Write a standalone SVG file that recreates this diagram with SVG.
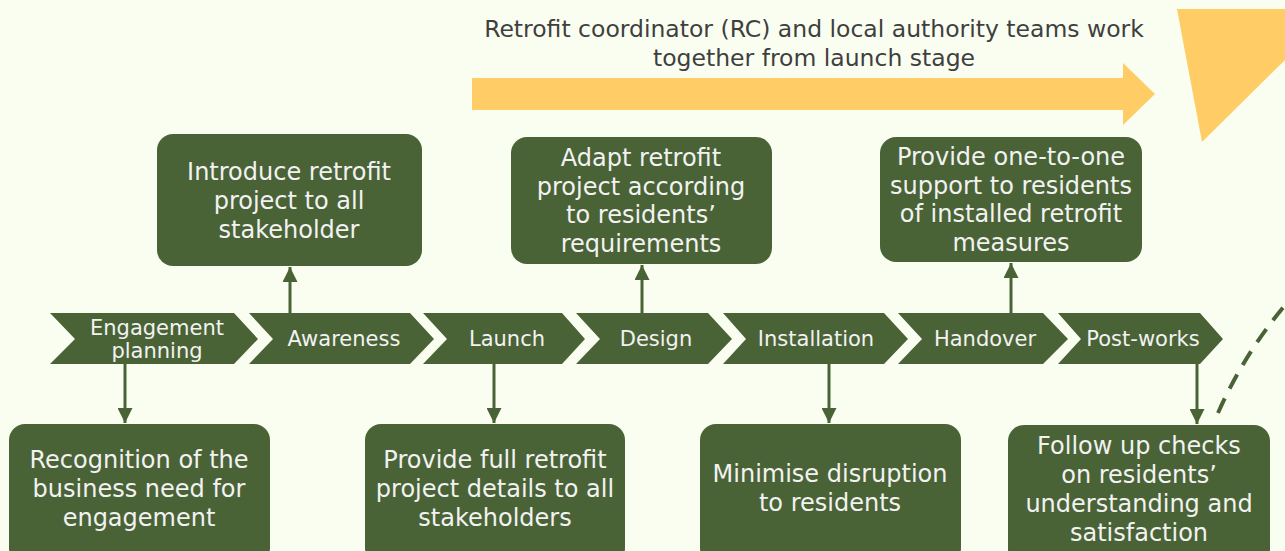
<svg xmlns="http://www.w3.org/2000/svg" width="1285" height="551" viewBox="0 0 1285 551">
<defs>
<style>
.bg{fill:#FAFEF0}
.box{fill:#4A6336}
.chev{fill:#4A6336}
.lbl{font-family:"DejaVu Sans",sans-serif;font-size:21px;fill:#F2F2F2;text-anchor:middle}
.bt{font-family:"DejaVu Sans",sans-serif;font-size:24px;fill:#F2F2F2;text-anchor:middle}
.tt{font-family:"DejaVu Sans",sans-serif;font-size:23.5px;fill:#3F3F3F;text-anchor:middle}
.con{stroke:#4A6336;stroke-width:3;fill:none}
.yel{fill:#FFCC66}
</style>
<marker id="ah" viewBox="0 0 10 10" refX="10" refY="5" markerWidth="5" markerHeight="5" markerUnits="strokeWidth" orient="auto">
<path d="M0,0 L10,5 L0,10 z" fill="#4A6336"/>
</marker>
</defs>
<rect class="bg" x="0" y="0" width="1285" height="551"/>

<g id="banner">
<text class="tt" x="814" y="37">Retrofit coordinator (RC) and local authority teams work</text>
<text class="tt" x="814" y="66">together from launch stage</text>
<polygon class="yel" points="472,78 1123,78 1123,63 1155,94 1123,125 1123,110 472,110"/>
<polygon class="yel" points="1177,9 1285,9 1285,60 1202,142"/>
</g>

<g id="chevrons">
<g id="c-engagement"><polygon class="chev" points="50,313 234,313 258,339 234,364 50,364 75,339"/><text class="lbl" x="157" y="335">Engagement</text><text class="lbl" x="157" y="358">planning</text></g>
<g id="c-awareness"><polygon class="chev" points="249,313 410,313 434,339 410,364 249,364 273,339"/><text class="lbl" x="344" y="346">Awareness</text></g>
<g id="c-launch"><polygon class="chev" points="423,313 562,313 585,339 562,364 423,364 447,339"/><text class="lbl" x="507" y="346">Launch</text></g>
<g id="c-design"><polygon class="chev" points="576,313 708,313 732,339 708,364 576,364 600,339"/><text class="lbl" x="656" y="346">Design</text></g>
<g id="c-installation"><polygon class="chev" points="723,313 884,313 908,339 884,364 723,364 746,339"/><text class="lbl" x="816" y="346">Installation</text></g>
<g id="c-handover"><polygon class="chev" points="898,313 1043,313 1068,339 1043,364 898,364 922,339"/><text class="lbl" x="985" y="346">Handover</text></g>
<g id="c-postworks"><polygon class="chev" points="1058,313 1200,313 1223,339 1200,364 1058,364 1081,339"/><text class="lbl" x="1143" y="346">Post-works</text></g>
</g>

<g id="box-introduce"><rect class="box" x="157" y="134" width="265" height="132" rx="16"/>
<text class="bt" x="289" y="180">Introduce retrofit</text><text class="bt" x="289" y="209">project to all</text><text class="bt" x="289" y="238">stakeholder</text></g>
<g id="box-adapt"><rect class="box" x="511" y="137" width="261" height="127" rx="16"/>
<text class="bt" x="641" y="166">Adapt retrofit</text><text class="bt" x="641" y="195">project according</text><text class="bt" x="641" y="223">to residents’</text><text class="bt" x="641" y="252">requirements</text></g>
<g id="box-provide-support"><rect class="box" x="880" y="137" width="262" height="125" rx="16"/>
<text class="bt" x="1011" y="165">Provide one-to-one</text><text class="bt" x="1011" y="194">support to residents</text><text class="bt" x="1011" y="222">of installed retrofit</text><text class="bt" x="1011" y="251">measures</text></g>

<g id="box-recognition"><rect class="box" x="9" y="424" width="261" height="140" rx="16"/>
<text class="bt" x="139" y="468">Recognition of the</text><text class="bt" x="139" y="497">business need for</text><text class="bt" x="139" y="526">engagement</text></g>
<g id="box-full-details"><rect class="box" x="365" y="424" width="260" height="140" rx="16"/>
<text class="bt" x="495" y="468">Provide full retrofit</text><text class="bt" x="495" y="497">project details to all</text><text class="bt" x="495" y="526">stakeholders</text></g>
<g id="box-minimise"><rect class="box" x="700" y="424" width="261" height="140" rx="16"/>
<text class="bt" x="830" y="482">Minimise disruption</text><text class="bt" x="830" y="511">to residents</text></g>
<g id="box-follow-up"><rect class="box" x="1008" y="425" width="262" height="140" rx="16"/>
<text class="bt" x="1139" y="454">Follow up checks</text><text class="bt" x="1139" y="483">on residents’</text><text class="bt" x="1139" y="512">understanding and</text><text class="bt" x="1139" y="541">satisfaction</text></g>

<g id="connectors">
<line class="con" x1="125" y1="364" x2="125" y2="423" marker-end="url(#ah)"/>
<line class="con" x1="290" y1="313" x2="290" y2="267" marker-end="url(#ah)"/>
<line class="con" x1="494" y1="364" x2="494" y2="423" marker-end="url(#ah)"/>
<line class="con" x1="642" y1="313" x2="642" y2="265" marker-end="url(#ah)"/>
<line class="con" x1="829" y1="364" x2="829" y2="423" marker-end="url(#ah)"/>
<line class="con" x1="1011" y1="313" x2="1011" y2="263" marker-end="url(#ah)"/>
<line class="con" x1="1197" y1="364" x2="1197" y2="424" marker-end="url(#ah)"/>
<path d="M1218,413 Q1245,352 1287,303" stroke="#4A6336" stroke-width="4" fill="none" stroke-dasharray="16,11"/>
</g>
</svg>
